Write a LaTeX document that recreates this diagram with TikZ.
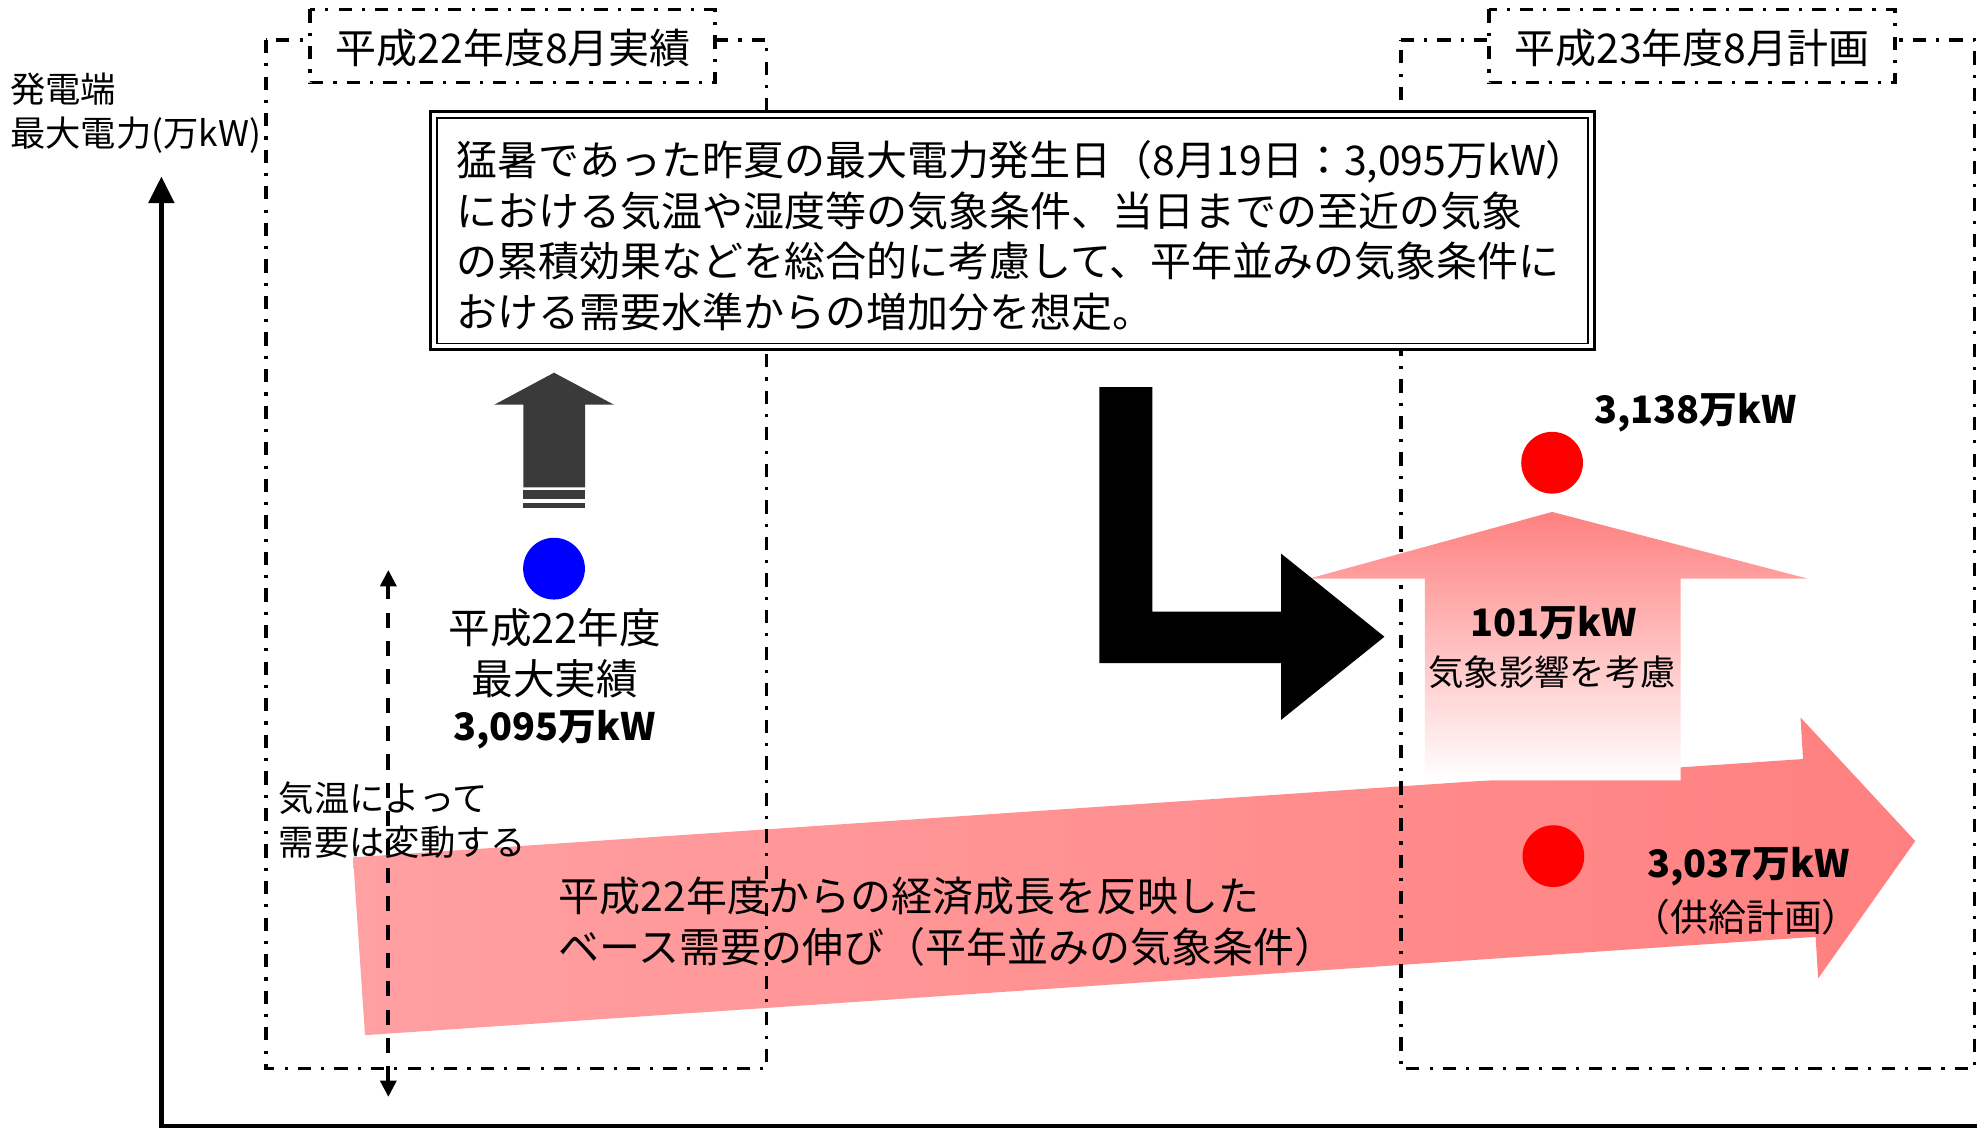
\documentclass[tikz,border=0pt]{standalone}
\usepackage{fontspec}
\setmainfont{Noto Sans CJK JP}
\usetikzlibrary{arrows.meta}
\definecolor{pinkA}{RGB}{255,160,162}
\definecolor{pinkB}{RGB}{255,128,128}
\definecolor{darkarrow}{RGB}{58,58,58}
\begin{document}
\begin{tikzpicture}[x=1pt,y=-1pt,
  dashdot/.style={line width=2.9pt, dash pattern=on 10.5pt off 8pt on 2.5pt off 8pt},
  lbl/.style={inner sep=0pt, text=black},
  fA/.style={font=\fontsize{32.5}{40}\selectfont},
  fT/.style={font=\fontsize{32.5}{40}\selectfont},
  fS/.style={font=\fontsize{28}{35}\selectfont},
  fB/.style={font=\fontsize{30}{38}\selectfont\bfseries},
  dot/.style={circle, inner sep=0pt, minimum size=49pt}
]
\useasboundingbox (0,0) rectangle (1568,895);

% big base-demand arrow
\shade[left color=pinkA, right color=pinkB]
  (280,680) -- (1430,602) -- (1428,569) -- (1519,667) -- (1442,776) -- (1440,743) -- (289.5,821) -- cycle;

% dash-dot period frames
\draw[dashdot] (211,31.7) rectangle (608,847.5);
\draw[dashdot] (1111,31.7) -- (1566,31.7) -- (1566,847.5) -- (1111,847.5) -- cycle;

% weather-effect arrow
\shade[top color=pinkB, bottom color=white]
  (1231,406) -- (1434,459) -- (1333,459) -- (1333,619) -- (1130,619) -- (1130,459) -- (1038,459) -- cycle;

% black L arrow
\fill[black] (872,307) -- (914,307) -- (914,485) -- (1016,485) -- (1016,439) -- (1098,505)
  -- (1016,571) -- (1016,526) -- (872,526) -- cycle;

% explanation box
\draw[line width=2.5pt, fill=white] (341.5,88.5) rectangle (1264.5,277.5);
\draw[line width=1.2pt] (346.5,93.5) rectangle (1259.5,272.5);

% title boxes
\draw[dashdot, fill=white] (246,7.5) rectangle (567,65.5);
\draw[dashdot, fill=white] (1181,7.5) rectangle (1503,65.5);

% dark up arrow
\fill[darkarrow] (439.4,295.6) -- (487,321) -- (464,321) -- (464,386.5) -- (415,386.5) -- (415,321) -- (392,321) -- cycle;
\fill[darkarrow] (415,389) rectangle (464,396);
\fill[darkarrow] (415,399) rectangle (464,403);

% dots
\node[dot, fill=blue] (blue) at (439.4,451) {};
\node[dot, fill=red] (redtop) at (1231,367) {};
\node[dot, fill=red] (redbase) at (1232,679) {};

% texts
\node[lbl, fT] (title1) at (407,38) {平成22年度8月実績};
\node[lbl, fT] (title2) at (1342,38) {平成23年度8月計画};
\node[lbl, font=\fontsize{28}{35}\selectfont, anchor=west, align=left] (ylabel) at (8,89.5) {発電端\\最大電力(万kW)};
\node[lbl, fA, anchor=west, align=left] (expl) at (362,187)
  {猛暑であった昨夏の最大電力発生日（8月19日：3,095万kW）\\における気温や湿度等の気象条件、当日までの至近の気象\\の累積効果などを総合的に考慮して、平年並みの気象条件に\\おける需要水準からの増加分を想定。};
\node[lbl, font=\fontsize{33}{41}\selectfont] (l22a) at (440,498) {平成22年度};
\node[lbl, font=\fontsize{33}{41}\selectfont] (l22b) at (440,538) {最大実績};
\node[lbl, fB] (l22c) at (440,579) {3,095万kW};
\node[lbl, fS, anchor=west, align=left] (vary) at (221,650.5) {気温によって\\需要は変動する};
\node[lbl, fA, anchor=west, align=left] (base) at (443,731)
  {平成22年度からの経済成長を反映した\\ベース需要の伸び（平年並みの気象条件）};
\node[lbl, fB] (v3138) at (1345,327) {3,138万kW};
\node[lbl, fB] (v101) at (1232,494) {101万kW};
\node[lbl, fS] (wx) at (1231,533) {気象影響を考慮};
\node[lbl, fB] (v3037) at (1387,687) {3,037万kW};
\node[lbl, font=\fontsize{30}{38}\selectfont] (plan) at (1385,727) {（供給計画）};

% dashed variation arrow
\coordinate (vtop) at (308,452);
\coordinate (vbot) at (308,870);
\draw[line width=3.2pt, dash pattern=on 12pt off 10.5pt,
  {Triangle[length=13pt,width=12.5pt]}-{Triangle[length=13pt,width=12.5pt]}] (vbot) -- (vtop);

% axes
\coordinate (origin) at (128,893);
\coordinate (ytop) at (128,140);
\coordinate (xend) at (1568,893);
\draw[line width=3.5pt, line join=miter, -{Triangle[length=21pt,width=20pt]}] (xend) -- (origin) -- (ytop);
\end{tikzpicture}
\end{document}
